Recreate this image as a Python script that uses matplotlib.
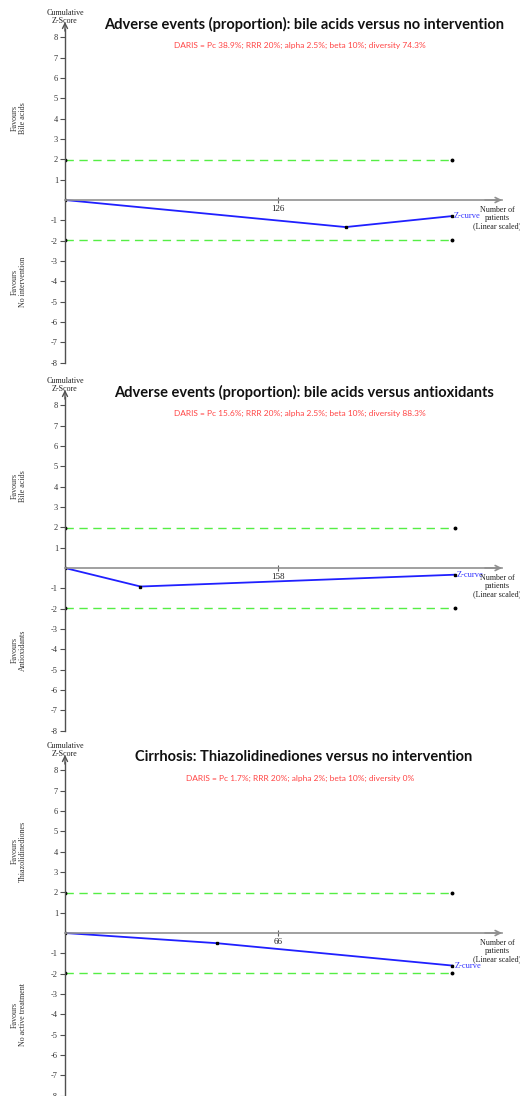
import matplotlib.pyplot as plt

# panel data
titles = ['Adverse events (proportion): bile acids versus no intervention',
          'Adverse events (proportion): bile acids versus antioxidants',
          'Cirrhosis: Thiazolidinediones versus no intervention']
subtitles = ['DARIS = Pc 38.9%; RRR 20%; alpha 2.5%; beta 10%; diversity 74.3%',
             'DARIS = Pc 15.6%; RRR 20%; alpha 2.5%; beta 10%; diversity 88.3%',
             'DARIS = Pc 1.7%; RRR 20%; alpha 2%; beta 10%; diversity 0%']
favours_top = ['Favours\nBile acids', 'Favours\nBile acids', 'Favours\nThiazolidinediones']
favours_bottom = ['Favours\nNo intervention', 'Favours\nAntioxidants', 'Favours\nNo active treatment']
x_ticks = [126, 158, 66]
patients_1 = [0, 166, 229]
zscore_1 = [0, -1.33, -0.79]
patients_2 = [0, 56, 289]
zscore_2 = [0, -0.91, -0.33]
patients_3 = [0, 47, 120]
zscore_3 = [0, -0.50, -1.60]
boundary = 1.96

patients = [patients_1, patients_2, patients_3]
zscores = [zscore_1, zscore_2, zscore_3]

W, H = 520, 1096
fig = plt.figure(figsize=(W / 100, H / 100), dpi=100)

serif = 'Liberation Serif'
zero_px = [200, 568, 933]
unit = 20.35
ytop, ybot = 8.6, -8.5


def fx(px):
    return px / W


def fy(py):
    return 1 - py / H


for i in range(3):
    top_px = zero_px[i] - ytop * unit
    height_px = (ytop - ybot) * unit
    ax = fig.add_axes([fx(65), fy(top_px + height_px), fx(445), height_px / H])
    xmax = x_ticks[i] * 445 / 213
    ax.set_xlim(0, xmax)
    ax.set_ylim(ybot, ytop)
    ax.patch.set_alpha(0)

    for s in ['top', 'right']:
        ax.spines[s].set_visible(False)
    ax.spines['left'].set_position(('data', 0))
    ax.spines['bottom'].set_position(('data', 0))
    ax.spines['left'].set_bounds(-8, 8.4)
    ax.spines['bottom'].set_bounds(0, xmax * 437 / 445)
    ax.spines['left'].set_color('#505050')
    ax.spines['bottom'].set_color('#909090')
    ax.spines['left'].set_linewidth(1.0)
    ax.spines['bottom'].set_linewidth(1.2)

    # arrow heads
    ax.annotate('', xy=(0, 8.75), xytext=(0, 8.3),
                arrowprops=dict(arrowstyle='->', color='#505050', lw=1.0,
                                mutation_scale=9, shrinkA=0, shrinkB=0),
                annotation_clip=False)
    ax.annotate('', xy=(xmax * 437 / 445, 0), xytext=(xmax * 420 / 445, 0),
                arrowprops=dict(arrowstyle='->', color='#909090', lw=1.2,
                                mutation_scale=9, shrinkA=0, shrinkB=0),
                annotation_clip=False)

    yt = [v for v in range(-8, 9) if v != 0]
    ax.set_yticks(yt)
    ax.set_yticklabels([str(v) for v in yt], fontsize=6, family=serif, color='#333333')
    ax.tick_params(axis='y', direction='out', length=3.5, width=0.8, color='#505050', pad=1.5)
    ax.set_xticks([x_ticks[i]])
    ax.set_xticklabels([str(x_ticks[i])], fontsize=6.5, family=serif, color='#222222')
    ax.tick_params(axis='x', direction='inout', length=5, width=0.8, color='#606060', pad=1)

    x_end = patients[i][-1]
    for b in [boundary, -boundary]:
        ax.plot([0, x_end], [b, b], color='#55ee44', lw=1.0, ls=(0, (6, 4)))
        ax.plot([0, x_end], [b, b], 'o', color='black', ms=1.8, ls='none')

    ax.plot(patients[i], zscores[i], color='#2020ff', lw=1.3)
    ax.plot(patients[i], zscores[i], 's', color='black', ms=1.5, ls='none')
    ax.text(x_end + xmax * 2 / 445, zscores[i][-1], 'Z-curve', color='#3333ff',
            fontsize=6, family=serif, va='center', ha='left')

    # texts in figure coords
    z0 = zero_px[i]
    fig.text(fx(65), fy(z0 - 183), 'Cumulative\nZ-Score', fontsize=5.8, family=serif,
             ha='center', va='center', linespacing=1.1, color='#222222')
    fig.text(fx(304), fy(z0 - 176), titles[i], fontsize=10.5, family='Lato',
             fontweight='bold', ha='center', va='center', color='#111111')
    fig.text(fx(300), fy(z0 - 155), subtitles[i], fontsize=6, family='Lato',
             ha='center', va='center', color='#ff4444')
    fig.text(fx(19), fy(z0 - 82), favours_top[i], fontsize=5.8, family=serif,
             rotation=90, ha='center', va='center', linespacing=1.1, color='#333333')
    fig.text(fx(19), fy(z0 + 82), favours_bottom[i], fontsize=5.8, family=serif,
             rotation=90, ha='center', va='center', linespacing=1.1, color='#333333')
    fig.text(fx(497), fy(z0 + 6), 'Number of\npatients\n(Linear scaled)', fontsize=5.8,
             family=serif, ha='center', va='top', linespacing=1.05, color='#222222')

fig.savefig('out.png', dpi=100)
